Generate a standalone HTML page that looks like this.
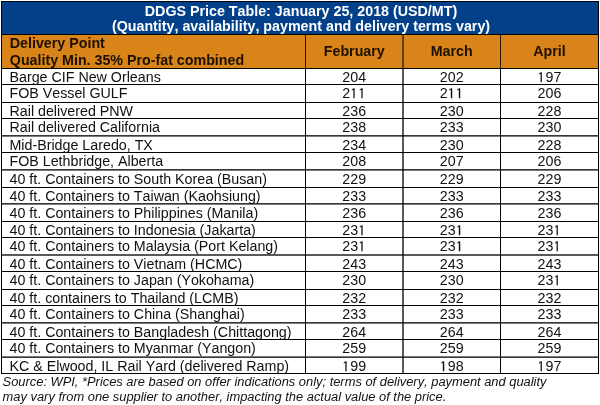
<!DOCTYPE html><html><head><meta charset="utf-8"><style>
html,body{margin:0;padding:0;background:#fff;}
body{width:600px;height:405px;position:relative;overflow:hidden;font-kerning:none;font-family:"Liberation Sans",sans-serif;}
.a{position:absolute;line-height:0;white-space:nowrap;}
.l{position:absolute;background:#000;}
.t{font-weight:bold;color:#fff;font-size:14.28px;text-align:center;}
.h{font-weight:bold;color:#1e1000;font-size:14.25px;}
.m{font-weight:bold;color:#1e1000;font-size:14.25px;text-align:center;}
.b{color:#111;font-size:14.25px;}
.n{color:#111;font-size:14.25px;text-align:center;}
.o{font-family:IPAGothic,"Liberation Sans",sans-serif;letter-spacing:0.795px;position:relative;top:0.8px;-webkit-text-stroke:0.15px #111;}
.f{color:#111;font-size:12.88px;font-style:italic;}
</style></head><body>
<div style="position:absolute;left:1px;top:1px;width:598px;height:373px;box-sizing:border-box;border:1px solid #000;"></div>
<div style="position:absolute;left:2px;top:2px;width:596px;height:32px;background:#03408a"></div>
<div class="l" style="left:2px;top:34px;width:596px;height:1px"></div>
<div style="position:absolute;left:2px;top:35px;width:596px;height:33px;background:#d88418"></div>
<div class="l" style="left:2px;top:68px;width:596px;height:1px"></div>
<div style="position:absolute;left:305px;top:35px;width:1px;height:33px;background:#2a1600;opacity:1"></div>
<div class="l" style="left:305px;top:69px;width:1px;height:304px;opacity:1"></div>
<div style="position:absolute;left:402px;top:35px;width:1px;height:33px;background:#2a1600;opacity:0.65"></div>
<div class="l" style="left:402px;top:69px;width:1px;height:304px;opacity:0.65"></div>
<div style="position:absolute;left:403px;top:35px;width:1px;height:33px;background:#2a1600;opacity:0.65"></div>
<div class="l" style="left:403px;top:69px;width:1px;height:304px;opacity:0.65"></div>
<div style="position:absolute;left:500px;top:35px;width:1px;height:33px;background:#2a1600;opacity:1"></div>
<div class="l" style="left:500px;top:69px;width:1px;height:304px;opacity:1"></div>
<div class="l" style="left:2px;top:84px;width:596px;height:1px"></div>
<div class="l" style="left:2px;top:102px;width:596px;height:1px"></div>
<div class="l" style="left:2px;top:118px;width:596px;height:1px"></div>
<div class="l" style="left:2px;top:135px;width:596px;height:1px;opacity:0.78"></div>
<div class="l" style="left:2px;top:136px;width:596px;height:1px;opacity:0.52"></div>
<div class="l" style="left:2px;top:152px;width:596px;height:1px"></div>
<div class="l" style="left:2px;top:169px;width:596px;height:1px;opacity:0.78"></div>
<div class="l" style="left:2px;top:170px;width:596px;height:1px;opacity:0.52"></div>
<div class="l" style="left:2px;top:187px;width:596px;height:1px"></div>
<div class="l" style="left:2px;top:203px;width:596px;height:1px;opacity:0.78"></div>
<div class="l" style="left:2px;top:204px;width:596px;height:1px;opacity:0.52"></div>
<div class="l" style="left:2px;top:221px;width:596px;height:1px"></div>
<div class="l" style="left:2px;top:237px;width:596px;height:1px"></div>
<div class="l" style="left:2px;top:254px;width:596px;height:1px;opacity:0.65"></div>
<div class="l" style="left:2px;top:255px;width:596px;height:1px;opacity:0.65"></div>
<div class="l" style="left:2px;top:271px;width:596px;height:1px"></div>
<div class="l" style="left:2px;top:289px;width:596px;height:1px"></div>
<div class="l" style="left:2px;top:305px;width:596px;height:1px"></div>
<div class="l" style="left:2px;top:322px;width:596px;height:1px;opacity:0.78"></div>
<div class="l" style="left:2px;top:323px;width:596px;height:1px;opacity:0.52"></div>
<div class="l" style="left:2px;top:339px;width:596px;height:1px"></div>
<div class="l" style="left:2px;top:356px;width:596px;height:1px;opacity:0.52"></div>
<div class="l" style="left:2px;top:357px;width:596px;height:1px;opacity:0.78"></div>
<div class="a t" style="left:101px;width:400px;top:10.65px">DDGS Price Table: January 25, 2018 (USD/MT)</div>
<div class="a t" style="left:101px;width:400px;top:25.85px">(Quantity, availability, payment and delivery terms vary)</div>
<div class="a h" style="left:9.80px;top:43.46px">Delivery Point</div>
<div class="a h" style="left:9.80px;top:59.66px">Quality Min. 35% Pro-fat combined</div>
<div class="a m" style="left:306.00px;width:96.50px;top:50.76px">February</div>
<div class="a m" style="left:403.50px;width:96.50px;top:50.76px">March</div>
<div class="a m" style="left:501.00px;width:97.00px;top:50.76px">April</div>
<div class="a b" style="left:9.50px;top:77.16px">Barge CIF New Orleans</div>
<div class="a n" style="left:306.00px;width:96.50px;top:77.16px">204</div>
<div class="a n" style="left:403.50px;width:96.50px;top:77.16px">202</div>
<div class="a n" style="left:501.00px;width:97.00px;top:77.16px"><span class="o">1</span>97</div>
<div class="a b" style="left:9.50px;top:93.16px">FOB Vessel GULF</div>
<div class="a n" style="left:306.00px;width:96.50px;top:93.16px">2<span class="o">1</span><span class="o">1</span></div>
<div class="a n" style="left:403.50px;width:96.50px;top:93.16px">2<span class="o">1</span><span class="o">1</span></div>
<div class="a n" style="left:501.00px;width:97.00px;top:93.16px">206</div>
<div class="a b" style="left:9.50px;top:110.86px">Rail delivered PNW</div>
<div class="a n" style="left:306.00px;width:96.50px;top:110.86px">236</div>
<div class="a n" style="left:403.50px;width:96.50px;top:110.86px">230</div>
<div class="a n" style="left:501.00px;width:97.00px;top:110.86px">228</div>
<div class="a b" style="left:9.50px;top:127.16px">Rail delivered California</div>
<div class="a n" style="left:306.00px;width:96.50px;top:127.16px">238</div>
<div class="a n" style="left:403.50px;width:96.50px;top:127.16px">233</div>
<div class="a n" style="left:501.00px;width:97.00px;top:127.16px">230</div>
<div class="a b" style="left:9.50px;top:144.56px">Mid-Bridge Laredo, TX</div>
<div class="a n" style="left:306.00px;width:96.50px;top:144.56px">234</div>
<div class="a n" style="left:403.50px;width:96.50px;top:144.56px">230</div>
<div class="a n" style="left:501.00px;width:97.00px;top:144.56px">228</div>
<div class="a b" style="left:9.50px;top:161.16px">FOB Lethbridge, Alberta</div>
<div class="a n" style="left:306.00px;width:96.50px;top:161.16px">208</div>
<div class="a n" style="left:403.50px;width:96.50px;top:161.16px">207</div>
<div class="a n" style="left:501.00px;width:97.00px;top:161.16px">206</div>
<div class="a b" style="left:9.50px;top:178.56px">40 ft. Containers to South Korea (Busan)</div>
<div class="a n" style="left:306.00px;width:96.50px;top:178.56px">229</div>
<div class="a n" style="left:403.50px;width:96.50px;top:178.56px">229</div>
<div class="a n" style="left:501.00px;width:97.00px;top:178.56px">229</div>
<div class="a b" style="left:9.50px;top:196.16px">40 ft. Containers to Taiwan (Kaohsiung)</div>
<div class="a n" style="left:306.00px;width:96.50px;top:196.16px">233</div>
<div class="a n" style="left:403.50px;width:96.50px;top:196.16px">233</div>
<div class="a n" style="left:501.00px;width:97.00px;top:196.16px">233</div>
<div class="a b" style="left:9.50px;top:212.56px">40 ft. Containers to Philippines (Manila)</div>
<div class="a n" style="left:306.00px;width:96.50px;top:212.56px">236</div>
<div class="a n" style="left:403.50px;width:96.50px;top:212.56px">236</div>
<div class="a n" style="left:501.00px;width:97.00px;top:212.56px">236</div>
<div class="a b" style="left:9.50px;top:229.96px">40 ft. Containers to Indonesia (Jakarta)</div>
<div class="a n" style="left:306.00px;width:96.50px;top:229.96px">23<span class="o">1</span></div>
<div class="a n" style="left:403.50px;width:96.50px;top:229.96px">23<span class="o">1</span></div>
<div class="a n" style="left:501.00px;width:97.00px;top:229.96px">23<span class="o">1</span></div>
<div class="a b" style="left:9.50px;top:246.36px">40 ft. Containers to Malaysia (Port Kelang)</div>
<div class="a n" style="left:306.00px;width:96.50px;top:246.36px">23<span class="o">1</span></div>
<div class="a n" style="left:403.50px;width:96.50px;top:246.36px">23<span class="o">1</span></div>
<div class="a n" style="left:501.00px;width:97.00px;top:246.36px">23<span class="o">1</span></div>
<div class="a b" style="left:9.50px;top:263.66px">40 ft. Containers to Vietnam (HCMC)</div>
<div class="a n" style="left:306.00px;width:96.50px;top:263.66px">243</div>
<div class="a n" style="left:403.50px;width:96.50px;top:263.66px">243</div>
<div class="a n" style="left:501.00px;width:97.00px;top:263.66px">243</div>
<div class="a b" style="left:9.50px;top:280.16px">40 ft. Containers to Japan (Yokohama)</div>
<div class="a n" style="left:306.00px;width:96.50px;top:280.16px">230</div>
<div class="a n" style="left:403.50px;width:96.50px;top:280.16px">230</div>
<div class="a n" style="left:501.00px;width:97.00px;top:280.16px">23<span class="o">1</span></div>
<div class="a b" style="left:9.50px;top:297.86px">40 ft. containers to Thailand (LCMB)</div>
<div class="a n" style="left:306.00px;width:96.50px;top:297.86px">232</div>
<div class="a n" style="left:403.50px;width:96.50px;top:297.86px">232</div>
<div class="a n" style="left:501.00px;width:97.00px;top:297.86px">232</div>
<div class="a b" style="left:9.50px;top:314.16px">40 ft. Containers to China (Shanghai)</div>
<div class="a n" style="left:306.00px;width:96.50px;top:314.16px">233</div>
<div class="a n" style="left:403.50px;width:96.50px;top:314.16px">233</div>
<div class="a n" style="left:501.00px;width:97.00px;top:314.16px">233</div>
<div class="a b" style="left:9.50px;top:331.56px">40 ft. Containers to Bangladesh (Chittagong)</div>
<div class="a n" style="left:306.00px;width:96.50px;top:331.56px">264</div>
<div class="a n" style="left:403.50px;width:96.50px;top:331.56px">264</div>
<div class="a n" style="left:501.00px;width:97.00px;top:331.56px">264</div>
<div class="a b" style="left:9.50px;top:347.86px">40 ft. Containers to Myanmar (Yangon)</div>
<div class="a n" style="left:306.00px;width:96.50px;top:347.86px">259</div>
<div class="a n" style="left:403.50px;width:96.50px;top:347.86px">259</div>
<div class="a n" style="left:501.00px;width:97.00px;top:347.86px">259</div>
<div class="a b" style="left:9.50px;top:365.76px">KC &amp; Elwood, IL Rail Yard (delivered Ramp)</div>
<div class="a n" style="left:306.00px;width:96.50px;top:365.76px"><span class="o">1</span>99</div>
<div class="a n" style="left:403.50px;width:96.50px;top:365.76px"><span class="o">1</span>98</div>
<div class="a n" style="left:501.00px;width:97.00px;top:365.76px"><span class="o">1</span>97</div>
<div class="a f" style="left:2.60px;top:381.54px">Source: WPI, *Prices are based on offer indications only; terms of delivery, payment and quality</div>
<div class="a f" style="left:2.60px;top:396.54px">may vary from one supplier to another, impacting the actual value of the price.</div>
</body></html>
